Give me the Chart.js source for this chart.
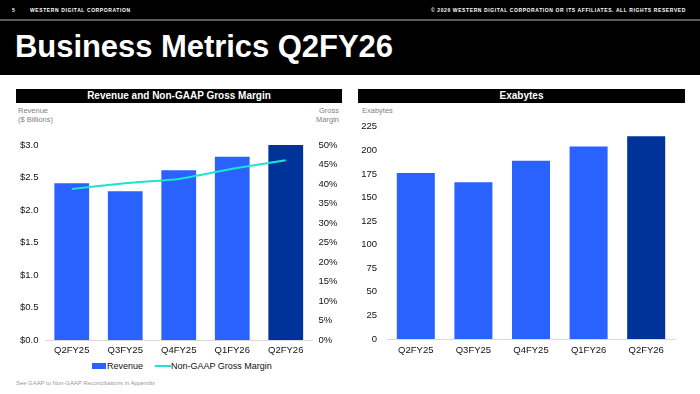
<!DOCTYPE html>
<html>
<head>
<meta charset="utf-8">
<script src="https://cdn.jsdelivr.net/npm/chart.js@4.4.1/dist/chart.umd.min.js"></script>
<style>
  html, body { margin: 0; padding: 0; }
  body { width: 700px; height: 394px; position: relative; background: #fff; overflow: hidden;
         font-family: "Liberation Sans", Arial, sans-serif; }
  .abs { position: absolute; }
  #topbar { left: 0; top: 0; width: 700px; height: 75px; background: #000; }
  #topline { left: 0; top: 19px; width: 700px; height: 2px; background: #5a5a5a; }
  .tiny { color: #fff; font-size: 5px; font-weight: bold; letter-spacing: 0.6px; top: 6px; line-height: 8px; white-space: nowrap; }
  #title { left: 15px; top: 31px; color: #fff; font-weight: bold; font-size: 31px; line-height: 31px; letter-spacing: -0.05px; white-space: nowrap; }
  .band { background: #000; color: #fff; font-weight: bold; font-size: 10px; text-align: center; height: 14px; line-height: 14px; top: 89px; }
  .axt { color: #7f7f7f; font-size: 7.5px; line-height: 9px; white-space: nowrap; }
  .leg { font-size: 9px; color: #111; line-height: 10px; top: 361px; white-space: nowrap; }
  #foot { left: 16px; top: 380px; font-size: 5.9px; color: #9a9a9a; white-space: nowrap; }
</style>
</head>
<body>
<div id="topbar" class="abs"></div>
<div id="topline" class="abs"></div>
<div class="abs tiny" style="left:12px;">5</div>
<div class="abs tiny" style="left:30px;">WESTERN DIGITAL CORPORATION</div>
<div class="abs tiny" style="right:14px;">© 2026 WESTERN DIGITAL CORPORATION OR ITS AFFILIATES. ALL RIGHTS RESERVED</div>
<div id="title" class="abs">Business Metrics Q2FY26</div>

<div class="abs band" style="left:16px; width:326px;">Revenue and Non-GAAP Gross Margin</div>
<div class="abs band" style="left:358px; width:327px;">Exabytes</div>

<div class="abs axt" style="left:18px; top:106px;">Revenue<br>($ Billions)</div>
<div class="abs axt" style="left:300px; width:39px; top:106px; text-align:right;">Gross<br>Margin</div>
<div class="abs axt" style="left:362px; top:106px;">Exabytes</div>

<div class="abs" style="left:0; top:120px; width:350px; height:240px;"><canvas id="c1"></canvas></div>
<div class="abs" style="left:350px; top:111px; width:350px; height:249px;"><canvas id="c2"></canvas></div>

<div class="abs" style="left:92px; top:363px; width:14px; height:6px; background:#2962ff;"></div>
<div class="abs leg" style="left:107px;">Revenue</div>
<div class="abs" style="left:155px; top:365px; width:16px; height:2px; background:#1de3cf;"></div>
<div class="abs leg" style="left:171px;">Non-GAAP Gross Margin</div>

<div id="foot" class="abs">See GAAP to Non-GAAP Reconciliations in Appendix</div>

<script>
const categories = ['Q2FY25', 'Q3FY25', 'Q4FY25', 'Q1FY26', 'Q2FY26'];
const revenue = [2.41, 2.29, 2.61, 2.82, 3.00];
const grossMargin = [38.7, 40.2, 41.3, 43.9, 46.1];
const exabytes = [176, 166, 189, 204, 215];
const revenueTicks = { min: 0, max: 3.0, step: 0.5 };
const marginTicks = { min: 0, max: 50, step: 5 };
const exabyteTicks = { min: 0, max: 225, step: 25 };

const BLUE = '#2962ff';
const NAVY = '#00339a';
const TEAL = '#1de3cf';
const barColors = categories.map((c, i) => i === categories.length - 1 ? NAVY : BLUE);
const tickFont = { family: '"Liberation Sans", Arial, sans-serif', size: 9.5 };
const noGrid = { display: false, drawTicks: false };

Chart.defaults.animation = false;

new Chart(document.getElementById('c1'), {
  type: 'bar',
  data: {
    labels: categories,
    datasets: [
      { type: 'line', label: 'Non-GAAP Gross Margin', data: grossMargin, yAxisID: 'y2',
        borderColor: TEAL, backgroundColor: TEAL, borderWidth: 2, pointRadius: 0, tension: 0.15, order: 0 },
      { type: 'bar', label: 'Revenue', data: revenue, yAxisID: 'y',
        backgroundColor: barColors, borderWidth: 0, categoryPercentage: 1, barPercentage: 0.65, order: 1 }
    ]
  },
  options: {
    responsive: true, maintainAspectRatio: false,
    layout: { padding: { left: 20, right: 0, top: 25, bottom: 0 } },
    plugins: { legend: { display: false }, tooltip: { enabled: false } },
    scales: {
      x: {
        grid: noGrid,
        border: { display: true, color: '#d9d9d9', width: 1 },
        ticks: { color: '#111', font: tickFont, padding: 5, maxRotation: 0 },
        afterFit: s => { s.height = 20; }
      },
      y: {
        position: 'left', min: revenueTicks.min, max: revenueTicks.max,
        grid: noGrid, border: { display: false },
        ticks: { stepSize: revenueTicks.step, color: '#111', font: tickFont, crossAlign: 'far',
                 callback: v => '$' + Number(v).toFixed(1) },
        afterFit: s => { s.width = 25; }
      },
      y2: {
        position: 'right', min: marginTicks.min, max: marginTicks.max,
        grid: noGrid, border: { display: false },
        ticks: { stepSize: marginTicks.step, color: '#111', font: tickFont, padding: 6,
                 callback: v => v + '%' },
        afterFit: s => { s.width = 37.5; }
      }
    }
  }
});

new Chart(document.getElementById('c2'), {
  type: 'bar',
  data: {
    labels: categories,
    datasets: [
      { label: 'Exabytes', data: exabytes, backgroundColor: barColors, borderWidth: 0,
        categoryPercentage: 1, barPercentage: 0.66 }
    ]
  },
  options: {
    responsive: true, maintainAspectRatio: false,
    layout: { padding: { left: 0, right: 25, top: 6, bottom: 0 } },
    plugins: { legend: { display: false }, tooltip: { enabled: false } },
    scales: {
      x: {
        grid: noGrid,
        border: { display: true, color: '#d9d9d9', width: 1 },
        ticks: { color: '#111', font: tickFont, padding: 6, maxRotation: 0 },
        afterFit: s => { s.height = 21; }
      },
      y: {
        position: 'left', min: exabyteTicks.min, max: exabyteTicks.max,
        grid: noGrid, border: { display: false },
        ticks: { stepSize: exabyteTicks.step, color: '#111', font: tickFont, padding: 10 },
        afterFit: s => { s.width = 37; }
      }
    }
  }
});
</script>
</body>
</html>
